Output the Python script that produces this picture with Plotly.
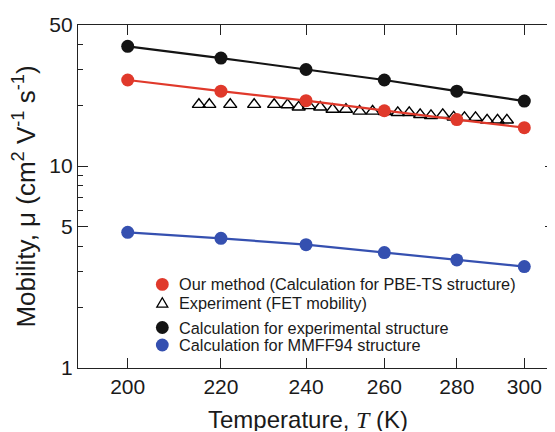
import plotly.graph_objects as go

# ---------------- data ----------------
temps = [200, 220, 240, 260, 280, 300]
mu_pbe_ts = [26.7, 23.5, 21.1, 18.8, 17.0, 15.5]        # Our method (PBE-TS)
mu_exp_struct = [39.2, 34.3, 30.1, 26.7, 23.5, 21.0]    # experimental structure
mu_mmff94 = [4.70, 4.39, 4.08, 3.73, 3.43, 3.18]        # MMFF94 structure

exp_temps = [215.1, 217.4, 222.1, 227.6, 232.3, 235.5, 238.2, 240.7, 243.5,
             246.6, 250.0, 253.5, 256.9, 260.2, 263.6, 266.7, 269.7, 272.7,
             276.0, 279.1, 282.2, 285.4, 288.8, 291.9, 294.7]
exp_mu = [20.2, 20.2, 20.2, 20.2, 20.2, 20.1, 19.6, 19.9, 19.6, 19.1, 19.1,
          18.7, 18.7, 18.6, 18.4, 18.4, 18.0, 17.8, 18.0, 17.5, 17.4, 17.4,
          16.9, 16.9, 16.9]

x_ticks = [200, 220, 240, 260, 280, 300]
y_ticks = [1, 5, 10, 50]
y_minor = [2, 3, 4, 6, 7, 8, 9, 20, 30, 40]

legend_labels = ["Our method (Calculation for PBE-TS structure)",
                 "Experiment (FET mobility)",
                 "Calculation for experimental structure",
                 "Calculation for MMFF94 structure"]

RED = "#e0392b"
BLACK = "#141414"
BLUE = "#3550b0"
FONT = "Liberation Sans, Arial, Helvetica, sans-serif"

# page body has an 8px margin: the figure is placed at (8, 8) in the window
OFF = 8
W, H = 547, 424
L, R, T = 70, 0, 17
PH = 343
B = H - T - PH
PW = W - L - R


def px(x):  # window pixel x -> paper
    return (x - OFF - L) / PW


def py(y):  # window pixel y -> paper
    return (OFF + T + PH - y) / PH


fig = go.Figure()

fig.add_trace(go.Scatter(
    x=exp_temps, y=exp_mu, mode="markers", name=legend_labels[1],
    marker=dict(symbol="triangle-up-open", size=11.5, color="black",
                line=dict(width=1.4, color="black")),
    showlegend=False))

for yv, col, name in [(mu_exp_struct, BLACK, legend_labels[2]),
                      (mu_pbe_ts, RED, legend_labels[0]),
                      (mu_mmff94, BLUE, legend_labels[3])]:
    fig.add_trace(go.Scatter(
        x=temps, y=yv, mode="lines+markers", name=name,
        line=dict(color=col, width=2.2),
        marker=dict(symbol="circle", size=13, color=col),
        showlegend=False))

# ---------- manual legend (tight spacing as in the reference) ----------
rows = [284.4, 303.0, 327.5, 345.0]
cols = [RED, None, BLACK, BLUE]
mx, tx = 162.3, 177.4
shapes = []
for r, c, lab in zip(rows, cols, legend_labels):
    if c is None:
        shapes.append(dict(type="path", xref="paper", yref="paper",
                           xsizemode="pixel", ysizemode="pixel",
                           xanchor=px(mx), yanchor=py(r),
                           path="M -5.5,-4.2 L 5.5,-4.2 L 0,5.3 Z",
                           line=dict(color="black", width=1.3),
                           fillcolor="rgba(0,0,0,0)"))
    else:
        shapes.append(dict(type="circle", xref="paper", yref="paper",
                           xsizemode="pixel", ysizemode="pixel",
                           xanchor=px(mx), yanchor=py(r),
                           x0=-6.4, x1=6.4, y0=-6.4, y1=6.4,
                           line=dict(width=0), fillcolor=c))
    fig.add_annotation(x=px(tx), y=py(r), xref="paper", yref="paper",
                       text=lab, showarrow=False, xanchor="left",
                       yanchor="middle",
                       font=dict(family=FONT, size=16.3, color="#1a1a1a"))

# x-axis title (slightly left of centre, as in the reference)
fig.add_annotation(
    x=px(307.5), y=py(419.0), xref="paper", yref="paper",
    text="Temperature, <span style=\"font-family:'Liberation Serif'\"><i>T</i></span> (K)",
    showarrow=False, xanchor="center", yanchor="middle",
    height=24, valign="middle",
    font=dict(family=FONT, size=24, color="#1a1a1a"))

fig.update_layout(
    width=W, height=H,
    margin=dict(l=L, r=R, t=T, b=B),
    paper_bgcolor="white", plot_bgcolor="white",
    showlegend=False,
    shapes=shapes,
    font=dict(family=FONT, color="#1a1a1a"),
)

fig.update_xaxes(
    type="log", range=[2.27896, 2.49075],
    tickmode="array", tickvals=x_ticks, ticktext=[str(v) for v in x_ticks],
    ticks="inside", ticklen=10, tickwidth=1.3, tickcolor="#222",
    showline=True, linecolor="#222", linewidth=1.4, mirror="ticks",
    showgrid=False, zeroline=False,
    tickfont=dict(family=FONT, size=21, color="#1a1a1a"),
    automargin=False,
)

fig.update_yaxes(
    type="log", range=[0, 1.69897],
    tickmode="array", tickvals=y_ticks, ticktext=[str(v) for v in y_ticks],
    ticks="inside", ticklen=10, tickwidth=1.3, tickcolor="#222",
    minor=dict(tickvals=y_minor, ticks="inside", ticklen=5,
               tickwidth=1.2, tickcolor="#222", showgrid=False),
    showline=True, linecolor="#222", linewidth=1.4, mirror="allticks",
    showgrid=False, zeroline=False,
    tickfont=dict(family=FONT, size=21, color="#1a1a1a"),
    title=dict(text="Mobility, μ (cm<sup>2</sup> V<sup>-1</sup> s<sup>-1</sup>)",
               font=dict(family=FONT, size=26, color="#1a1a1a"), standoff=13),
    automargin=False,
)

fig.write_html("out.html")
